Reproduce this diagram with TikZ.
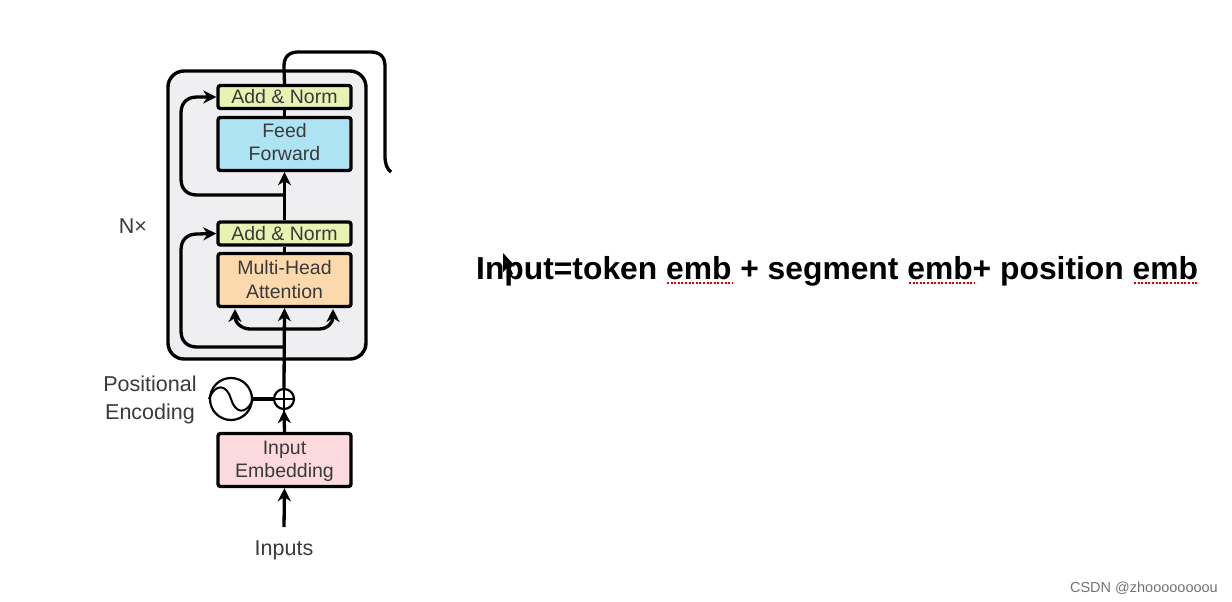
\documentclass[tikz,border=0pt]{standalone}
\usepackage{fontspec}
\setmainfont{Liberation Sans}
\usetikzlibrary{arrows.meta,calc}
\definecolor{txt}{HTML}{3A3A3A}
\definecolor{boxbg}{HTML}{EFEFF2}
\definecolor{addc}{HTML}{E8F2B2}
\definecolor{ffc}{HTML}{AEE3F4}
\definecolor{mhac}{HTML}{FCD9AC}
\definecolor{embc}{HTML}{FCD9DC}
\newsavebox{\twobox}
\newcommand{\twolines}[3]{\sbox{\twobox}{\begin{tabular}{@{}c@{}}#2\\#3\end{tabular}}\raisebox{#1}[\ht\twobox][\dp\twobox]{\usebox{\twobox}}}
\tikzset{
  blk/.style={draw=black,line width=3.4pt,rounded corners=2.5pt,minimum width=133pt,align=center,inner sep=0pt,text=txt,font=\fontsize{19.5}{23.5}\selectfont},
  addbox/.style={blk,fill=addc,minimum height=23pt},
  ffbox/.style={blk,fill=ffc,minimum height=53pt},
  mhabox/.style={blk,fill=mhac,minimum height=53pt},
  embbox/.style={blk,fill=embc,minimum height=53pt},
  lab/.style={text=txt,font=\fontsize{21.5}{28}\selectfont,align=center,inner sep=0pt},
  conn/.style={draw=black,line width=3.3pt},
  arr/.style={conn,-{Stealth[length=13pt,width=13pt,inset=4pt]}},
  under/.style={draw=red!85!black,line width=1.6pt,dash pattern=on 2pt off 1.6pt}
}
\begin{document}
\begin{tikzpicture}[x=1pt,y=-1pt]
\useasboundingbox (0,0) rectangle (1232,602);
\fill[white] (0,0) rectangle (1232,602);
\node[draw=black,line width=3.4pt,fill=boxbg,rounded corners=16pt,minimum width=198pt,minimum height=288pt,inner sep=0pt] (stack) at (267,215) {};
\coordinate (ffout) at (391,172);
\coordinate (res1) at (284,195);
\coordinate (res2) at (284,347);
\coordinate (split) at (284,329);
\coordinate (in) at (284,527);
\node[addbox] (an1) at (284.5,97) {Add \& Norm};
\node[ffbox] (ff) at (284.5,144) {\twolines{-0.3pt}{Feed}{Forward}};
\node[addbox] (an2) at (284.5,233.5) {Add \& Norm};
\node[mhabox] (mha) at (284.5,280) {\twolines{-2pt}{Multi-Head}{Attention}};
\node[embbox] (emb) at (284.5,460) {\twolines{-1.5pt}{Input}{Embedding}};
\node[draw=black,line width=2.2pt,fill=white,circle,minimum size=20pt,inner sep=0pt] (plus) at (284,399) {};
\node[draw=black,line width=2.2pt,fill=white,circle,minimum size=42pt,inner sep=0pt] (pe) at (231,399) {};
\node[lab] (inputs) at (284,550) {Inputs};
\node[lab] (pos) at (150,400) {Positional\\Encoding};
\node[lab] (nx) at (133,226) {N×};
\node[font=\bfseries\fontsize{31.8}{36}\selectfont,anchor=base west,inner sep=0pt,text=black] (main) at (476,279) {Input=token emb + segment emb+ position emb};
\node[anchor=base east,inner sep=0pt,text=black!55,font=\fontsize{14.5}{17}\selectfont] (wm) at (1218,592) {CSDN @zhoooooooou};
% connectors
\draw[conn] (an1.north) -- (284,66) .. controls (284,57) and (289,52) .. (298,52) -- (371,52) .. controls (380,52) and (385,57) .. (385,66) -- (385,156) .. controls (385,164) and (387,169) .. (ffout);
\draw[conn] (ff.north) -- (an1.south);
\draw[arr] (an2.north) -- (ff.south);
\draw[conn] (mha.north) -- (an2.south);
\draw[arr] (plus.north) -- (mha.south);
\draw[arr] (res1) -- (197,195) .. controls (187,195) and (181,189) .. (181,179) -- (181,113) .. controls (181,103) and (187,97) .. (197,97) -- (an1.west);
\draw[arr] (res2) -- (197,347) .. controls (187,347) and (181,341) .. (181,331) -- (181,250) .. controls (181,240) and (187,234) .. (197,234) -- (an2.west);
\draw[arr] (split) -- (250,329) .. controls (241,329) and (235,322) .. (235,309);
\draw[arr] (split) -- (319,329) .. controls (328,329) and (333,322) .. (333,309);
\draw[arr] (emb.north) -- (plus.south);
\draw[arr] (in) -- (emb.south);
\draw[conn] (pe.east) -- (plus.west);
% glyphs inside circles
\draw[black,line width=1.6pt] ([yshift=2pt]plus.north) -- ([yshift=-2pt]plus.south) ([xshift=2pt]plus.west) -- ([xshift=-2pt]plus.east);
\draw[black,line width=2pt] (pe.west) .. controls (216,382) and (227,385) .. (231,399) .. controls (235,413) and (246,416) .. (pe.east);
% underlines and pointer
\draw[under] (667,283) -- (732,283);
\draw[under] (909,283) -- (974,283);
\draw[under] (1134,283) -- (1198,283);
\fill[black] (503,253) -- (503,272) -- (507,268) -- (510,275) -- (513,274) -- (510,267) -- (515,266) -- cycle;
\end{tikzpicture}
\end{document}
